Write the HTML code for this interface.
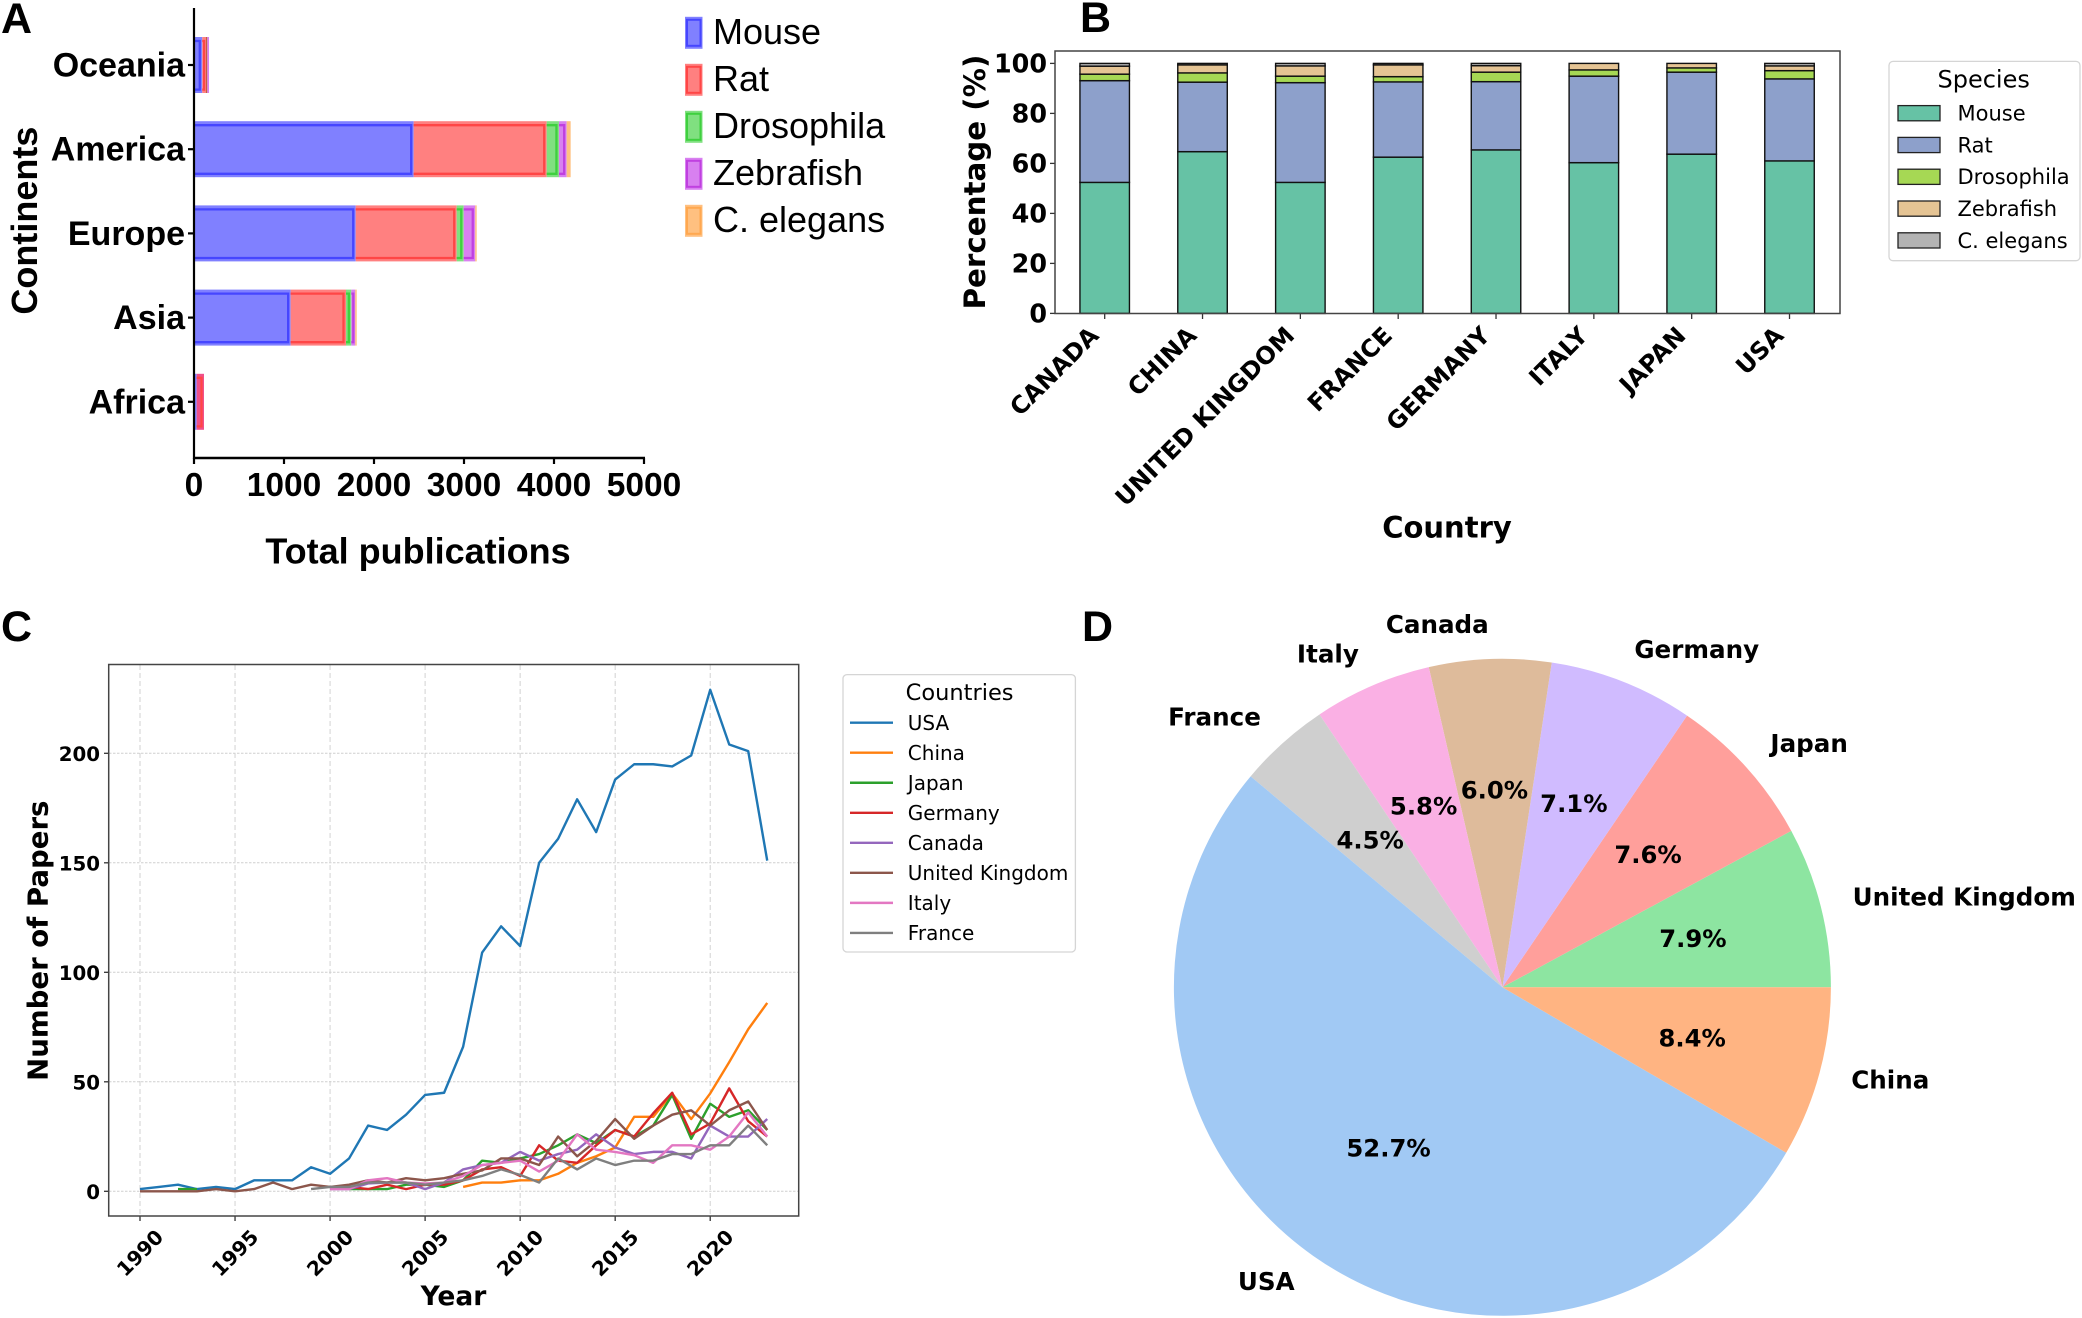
<!DOCTYPE html>
<html lang="en">
<head>
<meta charset="utf-8">
<title>Publications by continent, country and species</title>
<style>
html,body{margin:0;padding:0;background:#fff;}
svg{display:block;}
.ls{font-family:"Liberation Sans",sans-serif;}
.dj{font-family:"DejaVu Sans",sans-serif;}
.b{font-weight:bold;}
</style>
</head>
<body>
<svg id="fig" xmlns="http://www.w3.org/2000/svg" width="2082" height="1318" viewBox="0 0 2082 1318">
  <rect x="0" y="0" width="2082" height="1318" fill="#fff"/>

  <text class="ls b" x="1" y="33" font-size="43">A</text>
  <text class="ls b" x="1080" y="32" font-size="43">B</text>
  <text class="ls b" x="1" y="641" font-size="43">C</text>
  <text class="ls b" x="1082" y="641" font-size="43">D</text>

  <g id="panelA">
    <text class="ls b" font-size="36" text-anchor="middle" transform="translate(37,220.6) rotate(-90)">Continents</text>
    <text class="ls b" font-size="36" text-anchor="middle" x="418" y="563.5">Total publications</text>
  </g>

  <g id="panelB">
    <text class="dj b" font-size="29.3" text-anchor="middle" transform="translate(985,182) rotate(-90)">Percentage (%)</text>
    <text class="dj b" font-size="29" text-anchor="middle" x="1447" y="537.5">Country</text>
  </g>

  <g id="panelC">
    <text class="dj b" font-size="27.6" text-anchor="middle" transform="translate(47.5,940.7) rotate(-90)">Number of Papers</text>
    <text class="dj b" font-size="26.5" text-anchor="middle" x="453.5" y="1305">Year</text>
  </g>

  <g id="panelD"></g>
</svg>

<script>
/* ---------- Panel A data ---------- */
const continents = ['Oceania', 'America', 'Europe', 'Asia', 'Africa'];
const aSpecies = ['Mouse', 'Rat', 'Drosophila', 'Zebrafish', 'C. elegans'];
const aMouse = [92, 2441, 1797, 1074, 30];
const aRat = [41, 1478, 1122, 615, 81];
const aDrosophila = [15, 136, 78, 59, 0];
const aZebrafish = [19, 86, 128, 44, 0];
const aElegans = [0, 44, 16, 16, 0];
const aTicks = [0, 1000, 2000, 3000, 4000, 5000];

/* ---------- Panel B data ---------- */
const bCountries = ['CANADA', 'CHINA', 'UNITED KINGDOM', 'FRANCE', 'GERMANY', 'ITALY', 'JAPAN', 'USA'];
const bSpecies = ['Mouse', 'Rat', 'Drosophila', 'Zebrafish', 'C. elegans'];
const bMouse = [52.4, 64.7, 52.4, 62.5, 65.4, 60.3, 63.7, 61.0];
const bRat = [40.7, 27.8, 39.9, 30.1, 27.3, 34.6, 32.8, 32.8];
const bDrosophila = [2.6, 3.7, 2.6, 2.1, 3.8, 2.5, 1.7, 3.3];
const bZebrafish = [3.2, 3.2, 4.1, 4.7, 2.6, 2.6, 1.8, 1.9];
const bElegans = [1.1, 0.6, 1.0, 0.6, 0.9, 0, 0, 1.0];
const bTicks = [0, 20, 40, 60, 80, 100];

/* ---------- Panel C data ---------- */
const years = [1990,1991,1992,1993,1994,1995,1996,1997,1998,1999,2000,2001,2002,2003,2004,2005,2006,2007,2008,2009,2010,2011,2012,2013,2014,2015,2016,2017,2018,2019,2020,2021,2022,2023];
const usaPapers = [1,2,3,1,2,1,5,5,5,11,8,15,30,28,35,44,45,66,109,121,112,150,161,179,164,188,195,195,194,199,229,204,201,151];
const chinaPapers = [null,null,null,null,null,null,null,null,null,null,null,null,null,null,null,null,null,2,4,4,5,5,8,13,16,20,34,34,44.7,33,44.7,59,74,86];
const japanPapers = [null,null,1,1,null,null,null,null,null,null,null,1,1,1,3,3,2,5,14,13,15,17,21,26,22,28,25,30,44,24,40,34,37,28];
const germanyPapers = [null,null,null,null,null,null,null,null,null,null,1,2,1,3,1,3,3,5,10,11,7,21,14,13,21,28,25,35.6,45,26,31,47,32,25];
const canadaPapers = [null,null,null,null,null,null,null,null,null,null,1,1,3.6,4,4,1,4,10,12,13,18,14,17,19,26,20,17,18,18,15,30,25,25,33];
const ukPapers = [0,0,0,0,1,0,1,4,1,3,2,3,5,4,6,5,6,8,9.5,15,15,12,25,16,23,33,24,30,35,37,30,37,41,28];
const italyPapers = [null,null,null,null,null,null,null,null,null,null,1,1,5,6,4,3.6,4,7,12,13,14,9,14,26,19,18,16.5,13,21,21,19,25,36,25];
const francePapers = [null,null,null,null,null,null,null,null,null,1,2,2,4,4,4,3,4,5,7,10,7.5,4,15,10,15,12,14,14,17,17,21,21,30,21];
const cCountries = ['USA', 'China', 'Japan', 'Germany', 'Canada', 'United Kingdom', 'Italy', 'France'];
const cXTicks = [1990, 1995, 2000, 2005, 2010, 2015, 2020];
const cYTicks = [0, 50, 100, 150, 200];

/* ---------- Panel D data ---------- */
const pieLabels = ['United Kingdom', 'Japan', 'Germany', 'Canada', 'Italy', 'France', 'USA', 'China'];
const pieValues = [7.9, 7.6, 7.1, 6.0, 5.8, 4.5, 52.7, 8.4];

const NS = 'http://www.w3.org/2000/svg';
function add(parent, tag, attrs, text) {
  const el = document.createElementNS(NS, tag);
  for (const k in attrs) el.setAttribute(k, attrs[k]);
  if (text !== undefined) el.textContent = text;
  parent.appendChild(el);
  return el;
}
const DJ = '"DejaVu Sans", sans-serif';
const LS = '"Liberation Sans", sans-serif';

/* ========== Panel A ========== */
(function () {
  const g = document.getElementById('panelA');
  const series = [aMouse, aRat, aDrosophila, aZebrafish, aElegans];
  const fills = ['#8080ff', '#ff8080', '#80e080', '#d880f0', '#ffc080'];
  const darks = ['#4646ff', '#ff4646', '#3fd03f', '#c040e0', '#ffa850'];
  /* colour bleed where very thin segments merge in the source artwork */
  const bleedTints = { '0-2': '#c0603f', '4-1': '#f0508a' };
  const x = v => 194 + v * 0.09;
  const y = i => 65 + i * 84.2;
  const barH = 56;

  function stroked(x0, x1, y0, y1) {
    const w = x1 - x0;
    const ins = Math.min(2.5, w / 2);
    return 'M' + x0 + ' ' + (y0 + 4) + 'H' + (x1 - ins) + 'V' + (y1 - 3.4) + 'H' + x0;
  }

  continents.forEach(function (name, i) {
    let acc = 0;
    series.forEach(function (s, k) {
      if (s[i] <= 0) return;
      const x0 = x(acc), x1 = x(acc + s[i]);
      const y0 = y(i) - barH / 2, y1 = y(i) + barH / 2;
      const r = add(g, 'rect', { x: x0, y: y0, width: x1 - x0, height: barH, fill: bleedTints[i + '-' + k] || fills[k] });
      
      
      if (k < 4 && (x1 - x0) >= 3) {
        const p = add(g, 'path', { d: stroked(x0, x1, y0, y1), fill: 'none', stroke: darks[k], 'stroke-width': 2.3 });
        
        
      }
      acc += s[i];
    });
    const t = add(g, 'line', { x1: 188, x2: 194, y1: y(i), y2: y(i), stroke: '#000', 'stroke-width': 2.2 });
    
    
    const l = add(g, 'text', { x: 185, y: y(i) + 11.5, 'text-anchor': 'end', 'font-family': LS, 'font-weight': 'bold', 'font-size': 34 }, name);
    
    
  });

  const sv = add(g, 'line', { x1: 194, x2: 194, y1: 8, y2: 459, stroke: '#000', 'stroke-width': 2.2 });
  
  
  const sh = add(g, 'line', { x1: 193, x2: 645, y1: 458, y2: 458, stroke: '#000', 'stroke-width': 2.6 });
  
  

  aTicks.forEach(function (v) {
    const t = add(g, 'line', { x1: x(v), x2: x(v), y1: 458, y2: 464, stroke: '#000', 'stroke-width': 2.2 });
    
    
    const l = add(g, 'text', { x: x(v), y: 496, 'text-anchor': 'middle', 'font-family': LS, 'font-weight': 'bold', 'font-size': 33.5 }, String(v));
    
    
  });

  aSpecies.forEach(function (name, k) {
    const ly = 16.8 + k * 47;
    const r = add(g, 'rect', { x: 685, y: ly, width: 17.5, height: 32, fill: fills[k] });
    
    
    const o = add(g, 'rect', { x: 687, y: ly + 3, width: 13.5, height: 26, fill: 'none', stroke: darks[k], 'stroke-width': 2 });
    
    
    const l = add(g, 'text', { x: 713, y: ly + 27.2, 'font-family': LS, 'font-size': 36 }, name);
    
    
  });
})();

/* ========== Panel B ========== */
(function () {
  const g = document.getElementById('panelB');
  const series = [bMouse, bRat, bDrosophila, bZebrafish, bElegans];
  const fills = ['#66c2a5', '#8da0cb', '#a6d854', '#e5c494', '#b3b3b3'];
  const x = i => 1104.7 + i * 97.83;
  const y = v => 313.4 - v * 2.5;
  const barW = 49.5;

  bCountries.forEach(function (name, i) {
    let acc = 0;
    series.forEach(function (s, k) {
      if (s[i] <= 0) return;
      const r = add(g, 'rect', { x: x(i) - barW / 2, y: y(acc + s[i]), width: barW, height: y(acc) - y(acc + s[i]), fill: fills[k], stroke: '#111', 'stroke-width': 1.4 });
      
      
      acc += s[i];
    });
    const t = add(g, 'line', { x1: x(i), x2: x(i), y1: 314, y2: 319, stroke: '#333', 'stroke-width': 1.3 });
    
    
    const lx = x(i) - 4.5, ly = 337;
    const l = add(g, 'text', { x: lx, y: ly, 'text-anchor': 'end', 'font-family': DJ, 'font-weight': 'bold', 'font-size': 24, transform: 'rotate(-45 ' + lx + ' ' + ly + ')' }, name);
    
    
  });

  bTicks.forEach(function (v) {
    const t = add(g, 'line', { x1: 1050, x2: 1055, y1: y(v), y2: y(v), stroke: '#333', 'stroke-width': 1.3 });
    
    
    const l = add(g, 'text', { x: 1047, y: y(v) + 9.2, 'text-anchor': 'end', 'font-family': DJ, 'font-weight': 'bold', 'font-size': 25.4 }, String(v));
    
    
  });

  const f = add(g, 'rect', { x: 1055, y: 51, width: 785, height: 262.5, fill: 'none', stroke: '#444', 'stroke-width': 1.5 });
  
  

  const box = add(g, 'rect', { x: 1889, y: 61.4, width: 191, height: 199.3, rx: 4, fill: '#fff', stroke: '#d5d5d5', 'stroke-width': 1.3 });
  
  
  const title = add(g, 'text', { x: 1983.7, y: 87.5, 'text-anchor': 'middle', 'font-family': DJ, 'font-size': 24 }, 'Species');
  
  
  bSpecies.forEach(function (name, k) {
    const ly = 105.6 + k * 31.8;
    const r = add(g, 'rect', { x: 1898, y: ly, width: 42, height: 15.2, fill: fills[k], stroke: '#222', 'stroke-width': 1.3 });
    
    
    const l = add(g, 'text', { x: 1957.5, y: ly + 15, 'font-family': DJ, 'font-size': 21 }, name);
    
    
  });
})();

/* ========== Panel C ========== */
(function () {
  const g = document.getElementById('panelC');
  const series = [usaPapers, chinaPapers, japanPapers, germanyPapers, canadaPapers, ukPapers, italyPapers, francePapers];
  const colors = ['#1f77b4', '#ff7f0e', '#2ca02c', '#d62728', '#9467bd', '#8c564b', '#e377c2', '#7f7f7f'];
  const x = yr => 140 + (yr - 1990) * 19.007;
  const y = v => 1191.3 - v * 2.19;

  cXTicks.forEach(function (yr) {
    const gl = add(g, 'line', { x1: x(yr), x2: x(yr), y1: 665, y2: 1216, stroke: '#d2d2d2', 'stroke-width': 1, 'stroke-dasharray': '5 3' });
    
    
    const t = add(g, 'line', { x1: x(yr), x2: x(yr), y1: 1216, y2: 1221, stroke: '#333', 'stroke-width': 1.3 });
    
    
    const ty = 1253;
    const l = add(g, 'text', { x: x(yr), y: ty + 7, 'text-anchor': 'middle', 'font-family': DJ, 'font-weight': 'bold', 'font-size': 20, transform: 'rotate(-45 ' + x(yr) + ' ' + ty + ')' }, String(yr));
    
    
  });
  cYTicks.forEach(function (v) {
    const gl = add(g, 'line', { x1: 109, x2: 798, y1: y(v), y2: y(v), stroke: '#cfcfcf', 'stroke-width': 1, 'stroke-dasharray': '2.5 1.5' });
    
    
    const t = add(g, 'line', { x1: 104, x2: 109, y1: y(v), y2: y(v), stroke: '#333', 'stroke-width': 1.3 });
    
    
    const l = add(g, 'text', { x: 100, y: y(v) + 7.5, 'text-anchor': 'end', 'font-family': DJ, 'font-weight': 'bold', 'font-size': 19.8 }, String(v));
    
    
  });

  series.forEach(function (s, k) {
    let d = '', pen = false;
    s.forEach(function (v, i) {
      if (v === null) { pen = false; return; }
      d += (pen ? 'L' : 'M') + x(years[i]).toFixed(2) + ' ' + y(v).toFixed(2);
      pen = true;
    });
    const p = add(g, 'path', { d: d, fill: 'none', stroke: colors[k], 'stroke-width': 2.4, 'stroke-linejoin': 'round' });
    
    
  });

  const f = add(g, 'rect', { x: 108.7, y: 664.5, width: 690, height: 551.5, fill: 'none', stroke: '#444', 'stroke-width': 1.5 });
  
  

  const box = add(g, 'rect', { x: 843, y: 674.6, width: 232.4, height: 277.4, rx: 4, fill: '#fff', stroke: '#d5d5d5', 'stroke-width': 1.3 });
  
  
  const title = add(g, 'text', { x: 959.6, y: 699.8, 'text-anchor': 'middle', 'font-family': DJ, 'font-size': 22.5 }, 'Countries');
  
  
  cCountries.forEach(function (name, k) {
    const ly = 722.7 + k * 30.03;
    const ln = add(g, 'line', { x1: 850, x2: 893, y1: ly, y2: ly, stroke: colors[k], 'stroke-width': 2.4 });
    
    
    const l = add(g, 'text', { x: 907.8, y: ly + 7.3, 'font-family': DJ, 'font-size': 20 }, name);
    
    
  });
})();

/* ========== Panel D ========== */
(function () {
  const g = document.getElementById('panelD');
  const colors = ['#8de5a1', '#ff9f9b', '#d0bbff', '#debb9b', '#fab0e4', '#cfcfcf', '#a1c9f4', '#ffb482'];
  const cx = 1502.4, cy = 987.3, R = 328.5;
  const total = pieValues.reduce((a, b) => a + b, 0);
  const px = (r, a) => cx + r * Math.cos(a);
  const py = (r, a) => cy - r * Math.sin(a);
  let acc = 0;
  pieValues.forEach(function (v, i) {
    const a0 = acc / total * 2 * Math.PI;
    const a1 = (acc + v) / total * 2 * Math.PI;
    const large = (a1 - a0) > Math.PI ? 1 : 0;
    const d = 'M' + cx + ' ' + cy + 'L' + px(R, a0).toFixed(2) + ' ' + py(R, a0).toFixed(2) + 'A' + R + ' ' + R + ' 0 ' + large + ' 0 ' + px(R, a1).toFixed(2) + ' ' + py(R, a1).toFixed(2) + 'Z';
    const s = add(g, 'path', { d: d, fill: colors[i] });
    
    
    acc += v;
  });
  acc = 0;
  pieValues.forEach(function (v, i) {
    const mid = (acc + v / 2) / total * 2 * Math.PI;
    const lx = px(R * 1.1, mid), ly = py(R * 1.1, mid);
    const l = add(g, 'text', { x: lx, y: ly + 7, 'text-anchor': Math.cos(mid) >= 0 ? 'start' : 'end', 'font-family': DJ, 'font-weight': 'bold', 'font-size': 24.6 }, pieLabels[i]);
    
    
    const p = add(g, 'text', { x: px(R * 0.6, mid) - 0.5, y: py(R * 0.6, mid) + 8, 'text-anchor': 'middle', 'font-family': DJ, 'font-weight': 'bold', 'font-size': 24.3 }, v.toFixed(1) + '%');
    
    
    acc += v;
  });
})();
</script>
</body>
</html>
